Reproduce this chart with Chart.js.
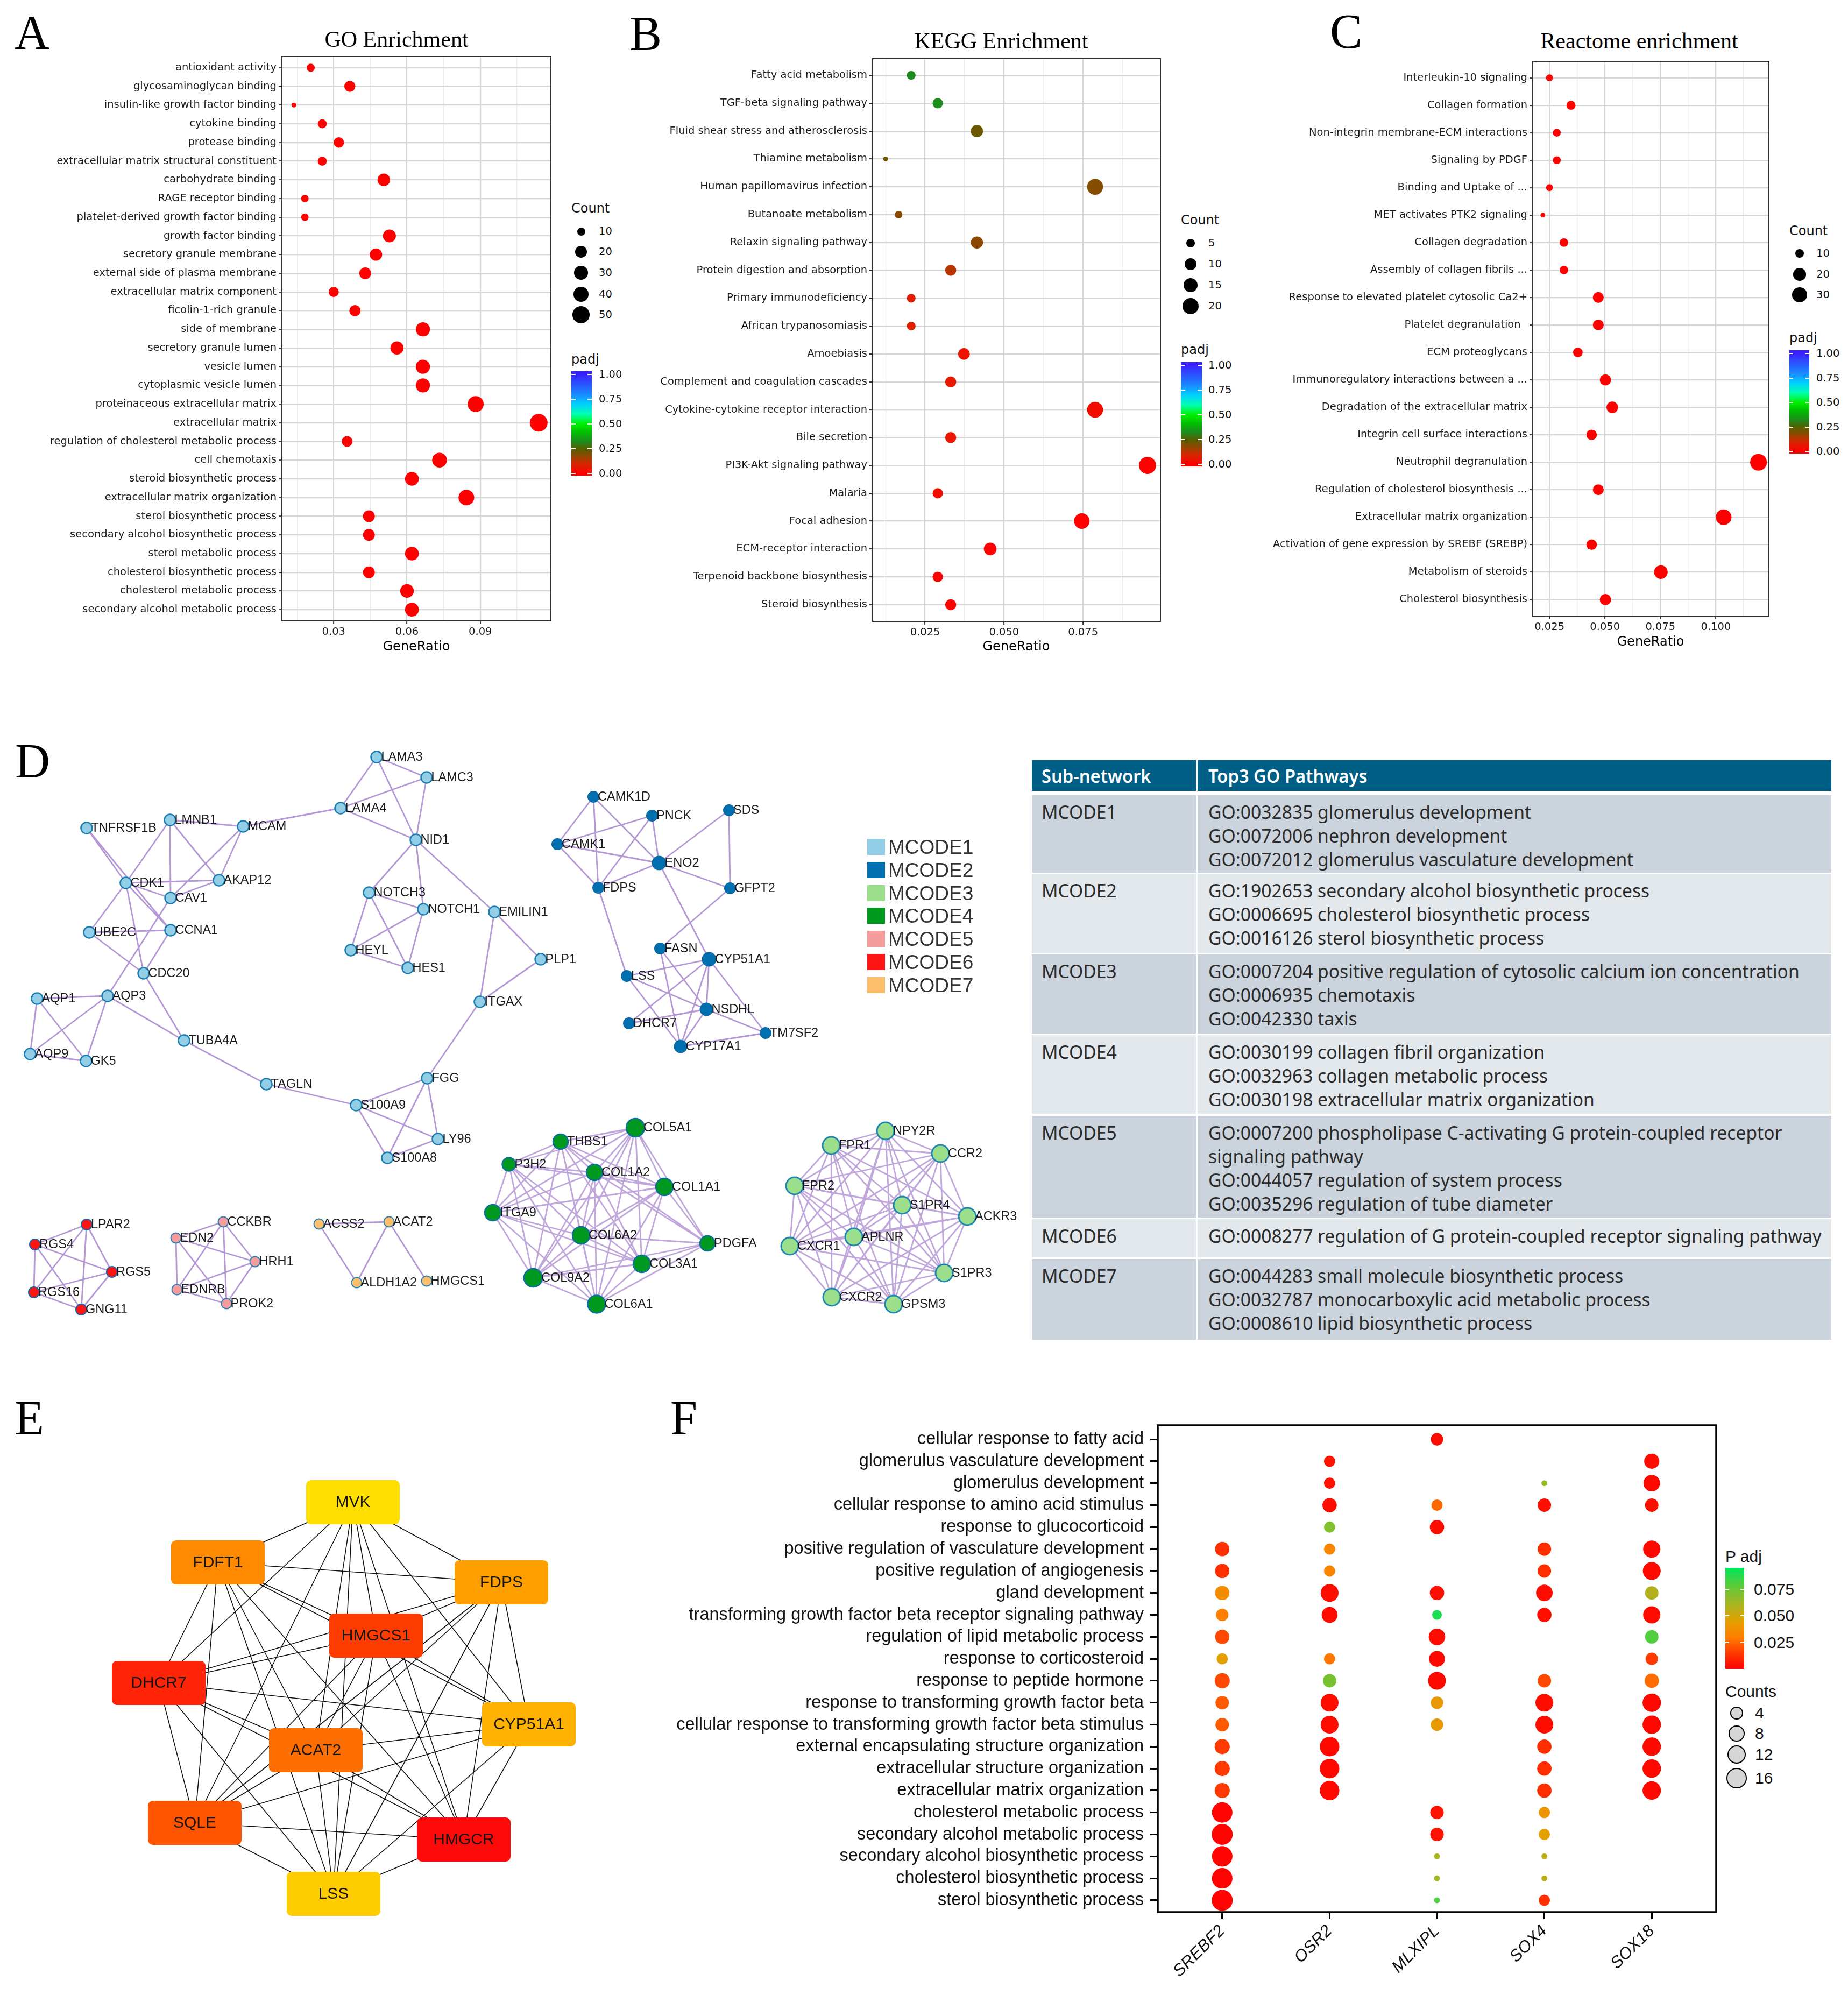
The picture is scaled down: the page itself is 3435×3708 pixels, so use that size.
<!DOCTYPE html>
<html>
<head>
<meta charset="utf-8">
<title>Enrichment, MCODE networks and TF enrichment</title>
<script src="https://cdn.jsdelivr.net/npm/chart.js@4.4.1/dist/chart.umd.min.js"></script>
<style>
  html, body { margin: 0; padding: 0; background: #fff; }
  #page { position: relative; width: 3435px; height: 3708px; overflow: hidden; background: #fff; }
  #page canvas { position: absolute; }
  .t { position: absolute; white-space: pre; color: #111; }
  .b { position: absolute; box-sizing: border-box; }
</style>
</head>
<body>
<div id="page"></div>
<script>
// ==========================================
// Data - A: GO enrichment
// ==========================================
const goTerms = ['antioxidant activity', 'glycosaminoglycan binding', 'insulin-like growth factor binding', 'cytokine binding',
  'protease binding', 'extracellular matrix structural constituent', 'carbohydrate binding', 'RAGE receptor binding',
  'platelet-derived growth factor binding', 'growth factor binding', 'secretory granule membrane', 'external side of plasma membrane',
  'extracellular matrix component', 'ficolin-1-rich granule', 'side of membrane', 'secretory granule lumen', 'vesicle lumen',
  'cytoplasmic vesicle lumen', 'proteinaceous extracellular matrix', 'extracellular matrix', 'regulation of cholesterol metabolic process',
  'cell chemotaxis', 'steroid biosynthetic process', 'extracellular matrix organization', 'sterol biosynthetic process',
  'secondary alcohol biosynthetic process', 'sterol metabolic process', 'cholesterol biosynthetic process',
  'cholesterol metabolic process', 'secondary alcohol metabolic process'];
const goRatio = [0.0206, 0.0366, 0.0137, 0.0253, 0.0321, 0.0253, 0.0505, 0.0182, 0.0182, 0.0528, 0.0473, 0.0429, 0.0300, 0.0387, 0.0665,
  0.0559, 0.0665, 0.0665, 0.0881, 0.1139, 0.0355, 0.0733, 0.0620, 0.0843, 0.0444, 0.0444, 0.0620, 0.0444, 0.0600, 0.0620];
const goCount = [10, 18, 7, 12, 16, 12, 24, 9, 9, 26, 23, 21, 15, 19, 32, 27, 32, 32, 43, 55, 17, 35, 30, 41, 21, 21, 30, 21, 29, 30];
const goPadj = [0.004, 0.002, 0.008, 0.006, 0.004, 0.006, 0.001, 0.005, 0.005, 0.001, 0.001, 0.002, 0.003, 0.002, 0.001,
  0.001, 0.001, 0.001, 0.000, 0.000, 0.003, 0.000, 0.000, 0.000, 0.001, 0.001, 0.000, 0.001, 0.000, 0.000];

// B: KEGG enrichment
const keggTerms = ['Fatty acid metabolism', 'TGF-beta signaling pathway', 'Fluid shear stress and atherosclerosis', 'Thiamine metabolism',
  'Human papillomavirus infection', 'Butanoate metabolism', 'Relaxin signaling pathway', 'Protein digestion and absorption',
  'Primary immunodeficiency', 'African trypanosomiasis', 'Amoebiasis', 'Complement and coagulation cascades',
  'Cytokine-cytokine receptor interaction', 'Bile secretion', 'PI3K-Akt signaling pathway', 'Malaria', 'Focal adhesion',
  'ECM-receptor interaction', 'Terpenoid backbone biosynthesis', 'Steroid biosynthesis'];
const keggRatio = [0.0206, 0.0290, 0.0414, 0.0125, 0.0788, 0.0166, 0.0414, 0.0331, 0.0206, 0.0206, 0.0373, 0.0331, 0.0788, 0.0331,
  0.0954, 0.0290, 0.0746, 0.0456, 0.0290, 0.0331];
const keggCount = [5, 7, 10, 3, 19, 4, 10, 8, 5, 5, 9, 8, 19, 8, 23, 7, 18, 11, 7, 8];
const keggPadj = [0.32, 0.33, 0.22, 0.22, 0.19, 0.18, 0.18, 0.13, 0.08, 0.08, 0.05, 0.06, 0.03, 0.05, 0.005, 0.03, 0.005, 0.003, 0.01, 0.01];

// C: Reactome enrichment
const reactomeTerms = ['Interleukin-10 signaling', 'Collagen formation', 'Non-integrin membrane-ECM interactions', 'Signaling by PDGF',
  'Binding and Uptake of ...', 'MET activates PTK2 signaling', 'Collagen degradation', 'Assembly of collagen fibrils ...',
  'Response to elevated platelet cytosolic Ca2+', 'Platelet degranulation  ', 'ECM proteoglycans',
  'Immunoregulatory interactions between a ...', 'Degradation of the extracellular matrix', 'Integrin cell surface interactions',
  'Neutrophil degranulation', 'Regulation of cholesterol biosynthesis ...', 'Extracellular matrix organization',
  'Activation of gene expression by SREBF (SREBP)', 'Metabolism of steroids', 'Cholesterol biosynthesis'];
const reactomeRatio = [0.0250, 0.0347, 0.0283, 0.0283, 0.0250, 0.0220, 0.0315, 0.0315, 0.0470, 0.0470, 0.0378, 0.0502, 0.0533,
  0.0440, 0.1192, 0.0470, 0.1035, 0.0440, 0.0752, 0.0502];
const reactomeCount = [8, 11, 9, 9, 8, 7, 10, 10, 15, 15, 12, 16, 17, 14, 38, 15, 33, 14, 24, 16];
const reactomePadj = [0.004, 0.002, 0.003, 0.003, 0.004, 0.006, 0.002, 0.002, 0.001, 0.001, 0.002, 0.001, 0.001, 0.001, 0.000,
  0.001, 0.000, 0.001, 0.000, 0.001];

// D: MCODE sub-networks (node name, layout x, layout y, node radius)
const mcodeNames = ['MCODE1', 'MCODE2', 'MCODE3', 'MCODE4', 'MCODE5', 'MCODE6', 'MCODE7'];
const mcodeFill = ['#92cfe6', '#0070b0', '#9bde8c', '#00991f', '#f59c9c', '#ff1414', '#fdbf6c'];
const mcode1Nodes = [['LAMA3', 700, 1407], ['LAMC3', 793, 1445], ['LAMA4', 633, 1502], ['NID1', 773, 1561], ['TNFRSF1B', 161, 1539],
  ['LMNB1', 316, 1524], ['MCAM', 452, 1536], ['CDK1', 234, 1641], ['AKAP12', 407, 1636], ['CAV1', 317, 1669], ['UBE2C', 166, 1733],
  ['CCNA1', 317, 1729], ['CDC20', 267, 1809], ['AQP1', 69, 1856], ['AQP3', 200, 1851], ['AQP9', 56, 1959], ['GK5', 160, 1972],
  ['TUBA4A', 342, 1934], ['TAGLN', 495, 2015], ['S100A9', 662, 2054], ['FGG', 794, 2004], ['LY96', 814, 2117], ['S100A8', 720, 2152],
  ['NOTCH3', 686, 1659], ['NOTCH1', 787, 1690], ['HEYL', 652, 1766], ['HES1', 758, 1799], ['EMILIN1', 919, 1695],
  ['PLP1', 1005, 1783], ['ITGAX', 892, 1862]];
const mcode1Edges = 'LAMA3-LAMC3 LAMA3-LAMA4 LAMA3-NID1 LAMC3-LAMA4 LAMC3-NID1 LAMA4-NID1 LAMA4-MCAM NID1-NOTCH3 NID1-NOTCH1 ' +
  'NID1-EMILIN1 NOTCH3-NOTCH1 NOTCH3-HEYL NOTCH3-HES1 NOTCH1-HEYL NOTCH1-HES1 HEYL-HES1 EMILIN1-PLP1 EMILIN1-ITGAX PLP1-ITGAX ' +
  'ITGAX-FGG FGG-S100A9 FGG-LY96 FGG-S100A8 S100A9-LY96 S100A9-S100A8 S100A8-LY96 S100A9-TAGLN TAGLN-TUBA4A TUBA4A-AQP3 ' +
  'TUBA4A-CDC20 AQP3-AQP1 AQP3-AQP9 AQP3-GK5 AQP1-AQP9 AQP1-GK5 AQP9-GK5 AQP3-CAV1 TNFRSF1B-CDK1 TNFRSF1B-CCNA1 LMNB1-CDK1 ' +
  'LMNB1-CAV1 LMNB1-MCAM LMNB1-AKAP12 MCAM-AKAP12 MCAM-CAV1 CDK1-AKAP12 CDK1-CAV1 CDK1-UBE2C CDK1-CDC20 CDK1-CCNA1 CAV1-AKAP12 ' +
  'UBE2C-CCNA1 UBE2C-CDC20 CCNA1-CDC20';
const mcode2Nodes = [['CAMK1D', 1103, 1481], ['PNCK', 1212, 1516], ['SDS', 1355, 1506], ['CAMK1', 1036, 1569], ['ENO2', 1225, 1604, 12.5],
  ['FDPS', 1112, 1650], ['GFPT2', 1357, 1651], ['FASN', 1227, 1763], ['CYP51A1', 1318, 1783, 12.5], ['LSS', 1165, 1814],
  ['NSDHL', 1313, 1876, 11.5], ['DHCR7', 1169, 1902], ['TM7SF2', 1423, 1920], ['CYP17A1', 1265, 1945, 11.5]];
const mcode2Edges = 'CAMK1D-CAMK1 CAMK1D-FDPS CAMK1D-ENO2 PNCK-CAMK1 PNCK-FDPS PNCK-ENO2 CAMK1-ENO2 CAMK1-FDPS FDPS-ENO2 SDS-ENO2 ' +
  'SDS-GFPT2 ENO2-GFPT2 ENO2-CYP51A1 GFPT2-FASN FDPS-LSS FASN-CYP17A1 FASN-NSDHL LSS-CYP51A1 LSS-NSDHL LSS-CYP17A1 CYP51A1-DHCR7 ' +
  'CYP51A1-NSDHL CYP51A1-CYP17A1 CYP51A1-TM7SF2 DHCR7-NSDHL NSDHL-CYP17A1 NSDHL-TM7SF2 CYP17A1-TM7SF2';
const mcode3Nodes = [['NPY2R', 1646, 2102], ['FPR1', 1545, 2129], ['CCR2', 1748, 2144], ['FPR2', 1477, 2204], ['S1PR4', 1677, 2240],
  ['ACKR3', 1798, 2261], ['APLNR', 1587, 2299], ['CXCR1', 1468, 2316], ['S1PR3', 1755, 2366], ['CXCR2', 1546, 2411], ['GPSM3', 1661, 2424]];
const mcode3Edges = 'NPY2R-FPR1 NPY2R-CCR2 NPY2R-FPR2 NPY2R-S1PR4 NPY2R-ACKR3 NPY2R-APLNR NPY2R-CXCR1 NPY2R-S1PR3 NPY2R-CXCR2 NPY2R-GPSM3 ' +
  'FPR1-CCR2 FPR1-FPR2 FPR1-S1PR4 FPR1-ACKR3 FPR1-APLNR FPR1-CXCR1 FPR1-S1PR3 FPR1-CXCR2 FPR1-GPSM3 ' +
  'CCR2-FPR2 CCR2-S1PR4 CCR2-ACKR3 CCR2-APLNR CCR2-CXCR1 CCR2-S1PR3 CCR2-CXCR2 CCR2-GPSM3 ' +
  'FPR2-S1PR4 FPR2-ACKR3 FPR2-APLNR FPR2-CXCR1 FPR2-S1PR3 FPR2-CXCR2 FPR2-GPSM3 ' +
  'S1PR4-ACKR3 S1PR4-APLNR S1PR4-CXCR1 S1PR4-S1PR3 S1PR4-CXCR2 S1PR4-GPSM3 ' +
  'ACKR3-APLNR ACKR3-CXCR1 ACKR3-S1PR3 ACKR3-CXCR2 ACKR3-GPSM3 APLNR-CXCR1 APLNR-S1PR3 APLNR-CXCR2 APLNR-GPSM3 ' +
  'CXCR1-S1PR3 CXCR1-CXCR2 CXCR1-GPSM3 S1PR3-CXCR2 S1PR3-GPSM3 CXCR2-GPSM3';
const mcode4Nodes = [['COL5A1', 1181, 2096, 17], ['THBS1', 1042, 2122, 14], ['P3H2', 946, 2164, 12.5], ['COL1A2', 1105, 2179, 15],
  ['COL1A1', 1235, 2206, 16], ['ITGA9', 916, 2254, 15], ['COL6A2', 1080, 2296, 16], ['PDGFA', 1315, 2311, 14],
  ['COL3A1', 1193, 2349, 16], ['COL9A2', 991, 2375, 17], ['COL6A1', 1109, 2424, 16.5]];
const mcode4Edges = 'COL5A1-THBS1 COL5A1-P3H2 COL5A1-COL1A2 COL5A1-COL1A1 COL5A1-ITGA9 COL5A1-COL6A2 COL5A1-PDGFA COL5A1-COL3A1 ' +
  'COL5A1-COL9A2 COL5A1-COL6A1 THBS1-P3H2 THBS1-COL1A2 THBS1-COL1A1 THBS1-ITGA9 THBS1-COL6A2 THBS1-COL3A1 THBS1-COL9A2 ' +
  'THBS1-COL6A1 THBS1-PDGFA P3H2-COL1A2 P3H2-COL1A1 P3H2-ITGA9 P3H2-COL6A2 P3H2-COL3A1 P3H2-COL9A2 P3H2-COL6A1 ' +
  'COL1A2-COL1A1 COL1A2-ITGA9 COL1A2-COL6A2 COL1A2-PDGFA COL1A2-COL3A1 COL1A2-COL9A2 COL1A2-COL6A1 COL1A1-ITGA9 ' +
  'COL1A1-COL6A2 COL1A1-PDGFA COL1A1-COL3A1 COL1A1-COL9A2 COL1A1-COL6A1 ITGA9-COL6A2 ITGA9-COL3A1 ITGA9-COL9A2 ' +
  'ITGA9-COL6A1 COL6A2-PDGFA COL6A2-COL3A1 COL6A2-COL9A2 COL6A2-COL6A1 PDGFA-COL3A1 PDGFA-COL9A2 PDGFA-COL6A1 ' +
  'COL3A1-COL9A2 COL3A1-COL6A1 COL9A2-COL6A1';
const mcode5Nodes = [['CCKBR', 415, 2271], ['EDN2', 327, 2301], ['HRH1', 474, 2345], ['EDNRB', 329, 2397], ['PROK2', 421, 2423]];
const mcode5Edges = 'CCKBR-EDN2 CCKBR-HRH1 CCKBR-EDNRB CCKBR-PROK2 EDN2-EDNRB EDN2-HRH1 EDN2-PROK2 HRH1-EDNRB HRH1-PROK2 EDNRB-PROK2';
const mcode6Nodes = [['LPAR2', 161, 2276], ['RGS4', 65, 2313], ['RGS5', 208, 2364], ['RGS16', 63, 2402], ['GNG11', 151, 2434]];
const mcode6Edges = 'LPAR2-RGS4 LPAR2-RGS5 LPAR2-RGS16 LPAR2-GNG11 RGS4-RGS5 RGS4-RGS16 RGS4-GNG11 RGS16-RGS5 RGS16-GNG11 RGS5-GNG11';
const mcode7Nodes = [['ACSS2', 593, 2275], ['ACAT2', 723, 2271], ['ALDH1A2', 663, 2384], ['HMGCS1', 793, 2381]];
const mcode7Edges = 'ACSS2-ACAT2 ACSS2-ALDH1A2 ACAT2-ALDH1A2 ACAT2-HMGCS1';

const tableHeader = ['Sub-network', 'Top3 GO Pathways'];
const tableRows = [
  ['MCODE1', ['GO:0032835 glomerulus development', 'GO:0072006 nephron development', 'GO:0072012 glomerulus vasculature development']],
  ['MCODE2', ['GO:1902653 secondary alcohol biosynthetic process', 'GO:0006695 cholesterol biosynthetic process', 'GO:0016126 sterol biosynthetic process']],
  ['MCODE3', ['GO:0007204 positive regulation of cytosolic calcium ion concentration', 'GO:0006935 chemotaxis', 'GO:0042330 taxis']],
  ['MCODE4', ['GO:0030199 collagen fibril organization', 'GO:0032963 collagen metabolic process', 'GO:0030198 extracellular matrix organization']],
  ['MCODE5', ['GO:0007200 phospholipase C-activating G protein-coupled receptor', 'signaling pathway', 'GO:0044057 regulation of system process', 'GO:0035296 regulation of tube diameter']],
  ['MCODE6', ['GO:0008277 regulation of G protein-coupled receptor signaling pathway']],
  ['MCODE7', ['GO:0044283 small molecule biosynthetic process', 'GO:0032787 monocarboxylic acid metabolic process', 'GO:0008610 lipid biosynthetic process']]
];

// E: hub genes
const hubNodes = [['MVK', 656, 2792], ['FDFT1', 405, 2904], ['FDPS', 932, 2941], ['HMGCS1', 699, 3040], ['DHCR7', 295, 3128],
  ['CYP51A1', 983, 3205], ['ACAT2', 587, 3253], ['SQLE', 362, 3388], ['HMGCR', 862, 3419], ['LSS', 620, 3520]];
const hubColors = ['#ffdf00', '#ff8a00', '#ffa000', '#ff3c00', '#ff2408', '#ffb300', '#ff6e00', '#ff5500', '#ff0a0a', '#ffcc00'];
const hubEdges = 'MVK-FDFT1 MVK-FDPS MVK-HMGCS1 MVK-DHCR7 MVK-CYP51A1 MVK-ACAT2 MVK-SQLE MVK-HMGCR MVK-LSS ' +
  'FDFT1-FDPS FDFT1-HMGCS1 FDFT1-DHCR7 FDFT1-CYP51A1 FDFT1-ACAT2 FDFT1-SQLE FDFT1-HMGCR FDFT1-LSS ' +
  'FDPS-HMGCS1 FDPS-DHCR7 FDPS-CYP51A1 FDPS-ACAT2 FDPS-SQLE FDPS-HMGCR FDPS-LSS ' +
  'HMGCS1-DHCR7 HMGCS1-CYP51A1 HMGCS1-ACAT2 HMGCS1-SQLE HMGCS1-HMGCR HMGCS1-LSS ' +
  'DHCR7-CYP51A1 DHCR7-ACAT2 DHCR7-SQLE DHCR7-HMGCR DHCR7-LSS CYP51A1-ACAT2 CYP51A1-SQLE CYP51A1-HMGCR CYP51A1-LSS ' +
  'ACAT2-SQLE ACAT2-HMGCR ACAT2-LSS SQLE-HMGCR SQLE-LSS HMGCR-LSS';

// F: transcription factor enrichment
const tfGenes = ['SREBF2', 'OSR2', 'MLXIPL', 'SOX4', 'SOX18'];
const tfTerms = ['cellular response to fatty acid', 'glomerulus vasculature development', 'glomerulus development',
  'cellular response to amino acid stimulus', 'response to glucocorticoid', 'positive regulation of vasculature development',
  'positive regulation of angiogenesis', 'gland development', 'transforming growth factor beta receptor signaling pathway',
  'regulation of lipid metabolic process', 'response to corticosteroid', 'response to peptide hormone',
  'response to transforming growth factor beta', 'cellular response to transforming growth factor beta stimulus',
  'external encapsulating structure organization', 'extracellular structure organization', 'extracellular matrix organization',
  'cholesterol metabolic process', 'secondary alcohol metabolic process', 'secondary alcohol biosynthetic process',
  'cholesterol biosynthetic process', 'sterol biosynthetic process'];
const srebf2Count = [null, null, null, null, null, 6, 6, 6, 4, 6, 3, 7, 5, 5, 7, 7, 7, 16, 17, 16, 16, 17];
const srebf2Padj = [null, null, null, null, null, 0.012, 0.012, 0.036, 0.030, 0.018, 0.045, 0.018, 0.022, 0.022, 0.015, 0.015, 0.015,
  0.001, 0.001, 0.001, 0.001, 0.001];
const osr2Count = [null, 3, 3, 6, 3, 3, 3, 11, 8, null, 3, 5, 11, 11, 14, 14, 14, null, null, null, null, null];
const osr2Padj = [null, 0.005, 0.005, 0.003, 0.070, 0.033, 0.033, 0.003, 0.003, null, 0.028, 0.072, 0.003, 0.003, 0.002, 0.002, 0.002,
  null, null, null, null, null];
const mlxiplCount = [4, null, null, 3, 6, null, null, 6, 2, 9, 8, 11, 4, 4, null, null, null, 5, 5, 1, 1, 1];
const mlxiplPadj = [0.003, null, null, 0.025, 0.003, null, null, 0.004, 0.090, 0.003, 0.002, 0.002, 0.042, 0.042, null, null, null,
  0.005, 0.005, 0.060, 0.062, 0.080];
const sox4Count = [null, null, 1, 5, null, 5, 5, 9, 6, null, null, 5, 11, 11, 6, 6, 6, 3, 3, 1, 1, 3];
const sox4Padj = [null, null, 0.065, 0.004, null, 0.012, 0.012, 0.003, 0.004, null, null, 0.018, 0.003, 0.003, 0.012, 0.012, 0.012,
  0.040, 0.045, 0.055, 0.055, 0.012];
const sox18Count = [null, 7, 9, 5, null, 10, 11, 5, 10, 5, 4, 6, 12, 12, 12, 12, 12, null, null, null, null, null];
const sox18Padj = [null, 0.003, 0.002, 0.004, null, 0.002, 0.002, 0.058, 0.003, 0.080, 0.015, 0.026, 0.002, 0.002, 0.002, 0.002, 0.002,
  null, null, null, null, null];

// Colour scales
const padjStops = [[0, '#ff0000'], [0.1, '#d42800'], [0.18, '#8c4a00'], [0.25, '#556000'], [0.32, '#1d8a1d'], [0.42, '#00c000'],
  [0.5, '#00f000'], [0.6, '#00ffb0'], [0.7, '#00d0ff'], [0.8, '#1a88ff'], [1, '#3a22ff']];
const tfStops = [[0, '#ff0000'], [0.015, '#ff3a00'], [0.03, '#ff7f00'], [0.045, '#e3a000'], [0.06, '#aab421'], [0.075, '#6cc636'],
  [0.095, '#00e65a']];

// ==========================================
// Helpers
// ==========================================
const page = document.getElementById('page');
Chart.defaults.layout.autoPadding = false;

function mkCanvas(left, top, w, h) {
  const cv = document.createElement('canvas');
  cv.width = w; cv.height = h;
  cv.style.left = left + 'px'; cv.style.top = top + 'px';
  cv.style.width = w + 'px'; cv.style.height = h + 'px';
  page.appendChild(cv);
  return cv;
}

function txt(s, x, y, font, align, color, sx) {
  const d = document.createElement('div');
  d.className = 't';
  d.textContent = s;
  d.style.left = x + 'px';
  d.style.top = y + 'px';
  d.style.font = font;
  if (color) d.style.color = color;
  const tx = align === 'center' ? '-50%' : align === 'right' ? '-100%' : '0';
  d.style.transformOrigin = 'left center';
  d.style.transform = `translate(${tx},-50%)` + (sx ? ` scaleX(${sx})` : '');
  page.appendChild(d);
  return d;
}

function box(x, y, w, h, css) {
  const d = document.createElement('div');
  d.className = 'b';
  d.style.cssText += `left:${x}px;top:${y}px;width:${w}px;height:${h}px;` + css;
  page.appendChild(d);
  return d;
}

const hex = h => [1, 3, 5].map(i => parseInt(h.substr(i, 2), 16));
function scaleColor(stops, v) {
  if (v <= stops[0][0]) return stops[0][1];
  for (let i = 1; i < stops.length; i++) {
    if (v <= stops[i][0]) {
      const a = hex(stops[i - 1][1]), b = hex(stops[i][1]);
      const t = (v - stops[i - 1][0]) / (stops[i][0] - stops[i - 1][0]);
      return `rgb(${a.map((c, k) => Math.round(c + (b[k] - c) * t)).join(',')})`;
    }
  }
  return stops[stops.length - 1][1];
}

function sizeScale(counts, rMin, rMax) {
  const vals = counts.filter(c => c != null);
  const lo = Math.min(...vals), hi = Math.max(...vals);
  return c => rMin + (rMax - rMin) * Math.sqrt(Math.max(0, c - lo) / (hi - lo));
}

function colorBar(x, y, w, h, stops, vMin, vMax) {
  const g = stops.map(([v, c]) => `${c} ${((v - vMin) / (vMax - vMin) * 100).toFixed(2)}%`).join(',');
  box(x, y, w, h, `background:linear-gradient(to top, ${g});`);
}

// frame around the plotting area
const framePlugin = {
  id: 'frame',
  beforeDatasetsDraw(chart, args, o) {
    const a = chart.chartArea, ctx = chart.ctx;
    ctx.save();
    ctx.strokeStyle = o.color || '#333';
    ctx.lineWidth = o.width || 2;
    ctx.strokeRect(a.left, a.top, a.right - a.left, a.bottom - a.top);
    ctx.restore();
  }
};

// node name labels for network panels
const nodeLabelPlugin = {
  id: 'nodeLabels',
  afterDatasetsDraw(chart) {
    const ctx = chart.ctx;
    chart.data.datasets.forEach((ds, di) => {
      if (!ds.names) return;
      const meta = chart.getDatasetMeta(di);
      ctx.save();
      ctx.font = ds.labelFont;
      ctx.fillStyle = ds.labelColor || '#1a1a1a';
      ctx.textBaseline = 'middle';
      ctx.textAlign = ds.labelAlign || 'left';
      meta.data.forEach((pt, i) => {
        const dx = ds.labelAlign === 'center' ? 0 : ds.radii[i] - 2;
        ctx.fillText(ds.names[i], pt.x + dx, pt.y + 1);
      });
      ctx.restore();
    });
  }
};

// ==========================================
// Panels A-C: enrichment dot plots
// ==========================================
function enrichChart(p) {
  const padT = 12, padR = 14;
  const yW = p.plotLeft - p.canvasLeft;
  const cv = mkCanvas(p.canvasLeft, p.plotTop - padT, yW + p.plotW + padR, padT + p.plotH + p.xAxisH);
  const n = p.terms.length;
  const isMajor = v => p.majors.some(m => Math.abs(m - v) < 1e-9);
  const tickFont = { family: '"DejaVu Sans"', size: 19.5 };
  new Chart(cv, {
    type: 'scatter',
    data: {
      datasets: [{
        data: p.ratio.map((r, i) => ({ x: r, y: i })),
        pointRadius: ctx => p.rad(p.count[ctx.dataIndex]),
        pointBackgroundColor: ctx => scaleColor(padjStops, p.padj[ctx.dataIndex]),
        pointBorderWidth: 0,
        clip: false
      }]
    },
    options: {
      responsive: false, animation: false, devicePixelRatio: 1, events: [],
      layout: { padding: { top: padT, right: padR, left: 0, bottom: 0 } },
      plugins: { legend: { display: false }, tooltip: { enabled: false }, frame: { color: '#333', width: 2 } },
      scales: {
        x: {
          type: 'linear', min: p.xMin, max: p.xMax,
          afterBuildTicks: s => { s.ticks = p.minors.concat(p.majors).sort((a, b) => a - b).map(v => ({ value: v })); },
          afterFit: s => { s.height = p.xAxisH; s.paddingLeft = 0; s.paddingRight = 0; },
          ticks: { autoSkip: false, maxRotation: 0, padding: 3, color: '#1a1a1a', font: tickFont,
            callback: v => isMajor(v) ? p.fmt(v) : '' },
          grid: {
            color: ctx => (ctx.tick && isMajor(ctx.tick.value)) ? '#d6d6d6' : '#ececec',
            lineWidth: ctx => (ctx.tick && isMajor(ctx.tick.value)) ? 2.2 : 1.3,
            tickLength: 6, tickWidth: 2,
            tickColor: ctx => (ctx.tick && isMajor(ctx.tick.value)) ? '#333' : 'rgba(0,0,0,0)'
          },
          border: { display: false }
        },
        y: {
          type: 'linear', reverse: true, min: -0.6, max: n - 0.4,
          afterBuildTicks: s => { s.ticks = p.terms.map((t, i) => ({ value: i })); },
          afterFit: s => { s.width = yW; s.paddingTop = 0; s.paddingBottom = 0; },
          ticks: { autoSkip: false, padding: 4, color: '#1a1a1a', font: tickFont, callback: v => p.terms[v] },
          grid: { color: '#d6d6d6', lineWidth: 2.2, tickLength: 6, tickColor: '#333', tickWidth: 2 },
          border: { display: false }
        }
      }
    },
    plugins: [framePlugin]
  });
}

function enrichLegend(L, rad) {
  const f = '19.5px/1 "DejaVu Sans"', ft = '24px/1 "DejaVu Sans"';
  txt('Count', L.x, L.countY, ft);
  L.sizes.forEach((c, i) => {
    const r = rad(c);
    box(L.circleX - r, L.sizeY[i] - r, 2 * r, 2 * r, 'background:#000;border-radius:50%;');
    txt(String(c), L.labelX, L.sizeY[i], f);
  });
  txt('padj', L.x, L.padjY, ft);
  const span = L.bar0 - L.bar1;
  const top = L.bar1 - 6, bottom = L.bar0 + 4;
  colorBar(L.x, top, L.barW, bottom - top, padjStops, -4 / span, 1 + 6 / span);
  [0, 0.25, 0.5, 0.75, 1].forEach(v => {
    const y = L.bar0 - v * span;
    txt(v.toFixed(2), L.labelX, y, f);
    box(L.x, y - 1, L.barW / 5, 2, 'background:#fff;');
    box(L.x + L.barW - L.barW / 5, y - 1, L.barW / 5, 2, 'background:#fff;');
  });
}

const goRad = sizeScale(goCount, 4.5, 16.5);
const keggRad = sizeScale(keggCount, 4.5, 16);
const reactomeRad = sizeScale(reactomeCount, 4.5, 15.5);

enrichChart({ terms: goTerms, ratio: goRatio, count: goCount, padj: goPadj, rad: goRad,
  canvasLeft: 0, plotLeft: 524, plotTop: 105, plotW: 500, plotH: 1049, xAxisH: 42,
  xMin: 0.0088, xMax: 0.1189, majors: [0.03, 0.06, 0.09], minors: [0.015, 0.045, 0.075, 0.105], fmt: v => v.toFixed(2) });
enrichChart({ terms: keggTerms, ratio: keggRatio, count: keggCount, padj: keggPadj, rad: keggRad,
  canvasLeft: 1150, plotLeft: 1622, plotTop: 109, plotW: 535, plotH: 1046, xAxisH: 42,
  xMin: 0.00838, xMax: 0.0995, majors: [0.025, 0.05, 0.075], minors: [0.0125, 0.0375, 0.0625, 0.0875], fmt: v => v.toFixed(3) });
enrichChart({ terms: reactomeTerms, ratio: reactomeRatio, count: reactomeCount, padj: reactomePadj, rad: reactomeRad,
  canvasLeft: 2300, plotLeft: 2849, plotTop: 114, plotW: 439, plotH: 1031, xAxisH: 42,
  xMin: 0.01745, xMax: 0.1239, majors: [0.025, 0.05, 0.075, 0.1], minors: [0.0375, 0.0625, 0.0875, 0.1125], fmt: v => v.toFixed(3) });

enrichLegend({ x: 1062, countY: 387, circleX: 1080, sizeY: [430, 468, 507, 547, 585], labelX: 1113, sizes: [10, 20, 30, 40, 50],
  padjY: 668, bar1: 696, bar0: 880, barW: 38 }, goRad);
enrichLegend({ x: 2195, countY: 409, circleX: 2213, sizeY: [452, 491, 530, 569], labelX: 2246, sizes: [5, 10, 15, 20],
  padjY: 650, bar1: 679, bar0: 863, barW: 39 }, keggRad);
enrichLegend({ x: 3326, countY: 429, circleX: 3345, sizeY: [471, 510, 548], labelX: 3376, sizes: [10, 20, 30],
  padjY: 628, bar1: 657, bar0: 839, barW: 37 }, reactomeRad);

// ==========================================
// Network charts (D and E)
// ==========================================
function edgePoints(nodes, edges) {
  const pos = {};
  nodes.forEach(nd => { pos[nd[0]] = nd; });
  const pts = [];
  edges.split(' ').forEach(e => {
    const [a, b] = e.split('-');
    pts.push({ x: pos[a][1], y: pos[a][2] }, { x: pos[b][1], y: pos[b][2] }, { x: null, y: null });
  });
  return pts;
}

function networkChart(area, datasets) {
  const cv = mkCanvas(area.left, area.top, area.w, area.h);
  new Chart(cv, {
    type: 'scatter',
    data: { datasets },
    options: {
      responsive: false, animation: false, devicePixelRatio: 1, events: [],
      layout: { padding: 0, autoPadding: false },
      plugins: { legend: { display: false }, tooltip: { enabled: false } },
      scales: {
        x: { type: 'linear', display: false, min: area.left, max: area.left + area.w },
        y: { type: 'linear', display: false, reverse: true, min: area.top, max: area.top + area.h }
      }
    },
    plugins: [nodeLabelPlugin]
  });
}

const mcodeClusters = [
  { nodes: mcode1Nodes, edges: mcode1Edges, fill: mcodeFill[0], stroke: '#1b7db0', r: 10.5, bw: 2.5 },
  { nodes: mcode2Nodes, edges: mcode2Edges, fill: mcodeFill[1], stroke: '#0b68a3', r: 10, bw: 2 },
  { nodes: mcode3Nodes, edges: mcode3Edges, fill: mcodeFill[2], stroke: '#1f86b0', r: 16, bw: 3 },
  { nodes: mcode4Nodes, edges: mcode4Edges, fill: mcodeFill[3], stroke: '#0e6e9e', r: 15, bw: 2.5 },
  { nodes: mcode5Nodes, edges: mcode5Edges, fill: mcodeFill[4], stroke: '#2a7fb5', r: 9.5, bw: 2 },
  { nodes: mcode6Nodes, edges: mcode6Edges, fill: mcodeFill[5], stroke: '#1a66a8', r: 10, bw: 2 },
  { nodes: mcode7Nodes, edges: mcode7Edges, fill: mcodeFill[6], stroke: '#2a7fb5', r: 9.5, bw: 2 }
];
const dSets = [];
mcodeClusters.forEach((cl, k) => {
  const dense = k === 2 || k === 3;
  dSets.push({
    order: 2, data: edgePoints(cl.nodes, cl.edges), showLine: true, spanGaps: false, pointRadius: 0,
    borderColor: dense ? 'rgba(140,95,190,0.55)' : 'rgba(155,118,200,0.75)', borderWidth: 2.8
  });
  const radii = cl.nodes.map(nd => nd[3] || cl.r);
  dSets.push({
    order: 0, data: cl.nodes.map(nd => ({ x: nd[1], y: nd[2] })), names: cl.nodes.map(nd => nd[0]), radii,
    labelFont: '23.5px "Liberation Sans"', labelColor: '#1a1a1a',
    pointRadius: radii, pointBackgroundColor: cl.fill, pointBorderColor: cl.stroke, pointBorderWidth: cl.bw, clip: false
  });
});
networkChart({ left: 0, top: 1370, w: 1900, h: 1120 }, dSets);

// E: hub gene network with rounded boxes
function roundBox(color) {
  const c = document.createElement('canvas');
  c.width = 174; c.height = 82;
  const g = c.getContext('2d');
  g.fillStyle = color;
  g.beginPath();
  g.roundRect(0, 0, 174, 82, 9);
  g.fill();
  return c;
}
networkChart({ left: 150, top: 2680, w: 950, h: 920 }, [
  { order: 2, data: edgePoints(hubNodes, hubEdges), showLine: true, spanGaps: false, pointRadius: 0, borderColor: '#111', borderWidth: 1.6 },
  { order: 0, data: hubNodes.map(nd => ({ x: nd[1], y: nd[2] })), names: hubNodes.map(nd => nd[0]), radii: hubNodes.map(() => 40),
    labelFont: '30px "Liberation Sans"', labelColor: '#151515', labelAlign: 'center',
    pointStyle: hubColors.map(roundBox), pointRadius: 40, clip: false }
]);

// ==========================================
// Panel F: TF enrichment dot plot
// ==========================================
const tfCounts = [srebf2Count, osr2Count, mlxiplCount, sox4Count, sox18Count];
const tfPadj = [srebf2Padj, osr2Padj, mlxiplPadj, sox4Padj, sox18Padj];
const tfRad = sizeScale([].concat(...tfCounts), 5.5, 19.5);
(function () {
  const canvasLeft = 1240, plotLeft = 2152, plotTop = 2649, plotW = 1038, plotH = 905, padT = 29, padR = 12, xAxisH = 150;
  const cv = mkCanvas(canvasLeft, plotTop - padT, plotLeft - canvasLeft + plotW + padR, padT + plotH + xAxisH);
  const datasets = tfGenes.map((g, gi) => ({
    data: tfTerms.map((t, i) => tfCounts[gi][i] == null ? null : { x: gi, y: i, c: tfCounts[gi][i], p: tfPadj[gi][i] }).filter(Boolean),
    pointRadius: ctx => tfRad(ctx.raw.c),
    pointBackgroundColor: ctx => scaleColor(tfStops, ctx.raw.p),
    pointBorderWidth: 0, clip: false
  }));
  const labFont = { family: '"Liberation Sans"', size: 32.5 };
  new Chart(cv, {
    type: 'scatter',
    data: { datasets },
    options: {
      responsive: false, animation: false, devicePixelRatio: 1, events: [],
      layout: { padding: { top: padT, right: padR, left: 0, bottom: 0 } },
      plugins: { legend: { display: false }, tooltip: { enabled: false }, frame: { color: '#000', width: 3.5 } },
      scales: {
        x: {
          type: 'linear', min: -0.6, max: 4.6,
          afterBuildTicks: s => { s.ticks = tfGenes.map((g, i) => ({ value: i })); },
          afterFit: s => { s.height = xAxisH; s.paddingLeft = 0; s.paddingRight = 0; },
          ticks: { autoSkip: false, minRotation: 45, maxRotation: 45, padding: 4, color: '#111',
            font: { family: '"Liberation Sans"', size: 31, style: 'italic' }, callback: v => tfGenes[v] },
          grid: { drawOnChartArea: false, tickLength: 13, tickWidth: 3, tickColor: '#000' },
          border: { display: false }
        },
        y: {
          type: 'linear', reverse: true, min: -0.64, max: 21.54,
          afterBuildTicks: s => { s.ticks = tfTerms.map((t, i) => ({ value: i })); },
          afterFit: s => { s.width = plotLeft - canvasLeft; s.paddingTop = 0; s.paddingBottom = 0; },
          ticks: { autoSkip: false, padding: 12, color: '#111', font: labFont, callback: v => tfTerms[v] },
          grid: { drawOnChartArea: false, tickLength: 14, tickWidth: 3, tickColor: '#000' },
          border: { display: false }
        }
      }
    },
    plugins: [framePlugin]
  });
})();

// F legend
(function () {
  const f = '30px/1 "Liberation Sans"';
  txt('P adj', 3207, 2893, f);
  const top = 2914, h = 188, vMax = 0.095;
  colorBar(3207, top, 35, h, tfStops, 0, vMax);
  [0.025, 0.05, 0.075].forEach(v => {
    const y = top + h - v / vMax * h;
    txt(v.toFixed(3), 3260, y, f);
    box(3207, y - 1, 7, 2, 'background:#fff;');
    box(3235, y - 1, 7, 2, 'background:#fff;');
  });
  txt('Counts', 3207, 3144, f);
  [4, 8, 12, 16].forEach((c, i) => {
    const y = [3184, 3222, 3261, 3305][i];
    const r = tfRad(c);
    box(3228 - r, y - r, 2 * r, 2 * r, 'background:#d6d6d6;border:2.5px solid #000;border-radius:50%;');
    txt(String(c), 3262, y, f);
  });
})();

// ==========================================
// Table (panel D right) and D legend
// ==========================================
(function () {
  const mctx = document.createElement('canvas').getContext('2d');
  mctx.font = '35px "Noto Sans"';
  const sx = 1140 / mctx.measureText(tableRows[5][1][0]).width;
  const x0 = 1918, x1 = 2223, x2 = 2226, x3 = 3404;
  const rowsY = [[1478, 1622], [1624, 1772], [1774, 1921], [1924, 2070], [2074, 2263], [2266, 2337], [2340, 2490]];
  box(x0, 1413, x1 - x0, 57, 'background:#005f87;');
  box(x2, 1413, x3 - x2, 57, 'background:#005f87;');
  txt(tableHeader[0], 1936, 1442, '600 34px/1 "Noto Sans"', 'left', '#fff', sx);
  txt(tableHeader[1], 2246, 1442, '600 34px/1 "Noto Sans"', 'left', '#fff', sx);
  tableRows.forEach(([name, lines], i) => {
    const [ya, yb] = rowsY[i];
    const bg = i % 2 === 0 ? '#cbd3dc' : '#e3e8ed';
    box(x0, ya, x1 - x0, yb - ya, 'background:' + bg + ';');
    box(x2, ya, x3 - x2, yb - ya, 'background:' + bg + ';');
    txt(name, 1936, ya + 30, '35px/1 "Noto Sans"', 'left', '#2b2b2b', sx);
    lines.forEach((l, j) => txt(l, 2246, ya + 30 + j * 44, '35px/1 "Noto Sans"', 'left', '#2b2b2b', sx));
  });

  mcodeNames.forEach((m, i) => {
    const y = 1574 + i * 42.8;
    box(1612, y - 15, 33, 30, 'background:' + mcodeFill[i] + ';');
    txt(m, 1651, y, '37px/1 "Liberation Sans"', 'left', '#333');
  });
})();

// ==========================================
// Titles, axis titles, panel letters
// ==========================================
txt('GO Enrichment', 737, 73, '42px/1 "Liberation Serif"', 'center', '#000');
txt('KEGG Enrichment', 1861, 76, '42px/1 "Liberation Serif"', 'center', '#000');
txt('Reactome enrichment', 3047, 76, '42px/1 "Liberation Serif"', 'center', '#000');
txt('GeneRatio', 774, 1201, '24px/1 "DejaVu Sans"', 'center', '#000');
txt('GeneRatio', 1889, 1201, '24px/1 "DejaVu Sans"', 'center', '#000');
txt('GeneRatio', 3068, 1192, '24px/1 "DejaVu Sans"', 'center', '#000');
[['A', 27, 61], ['B', 1170, 63], ['C', 2472, 59], ['D', 28, 1415], ['E', 27, 2636], ['F', 1246, 2636]].forEach(([l, x, y]) =>
  txt(l, x, y, '90px/1 "Liberation Serif"', 'left', '#000'));
</script>
</body>
</html>
